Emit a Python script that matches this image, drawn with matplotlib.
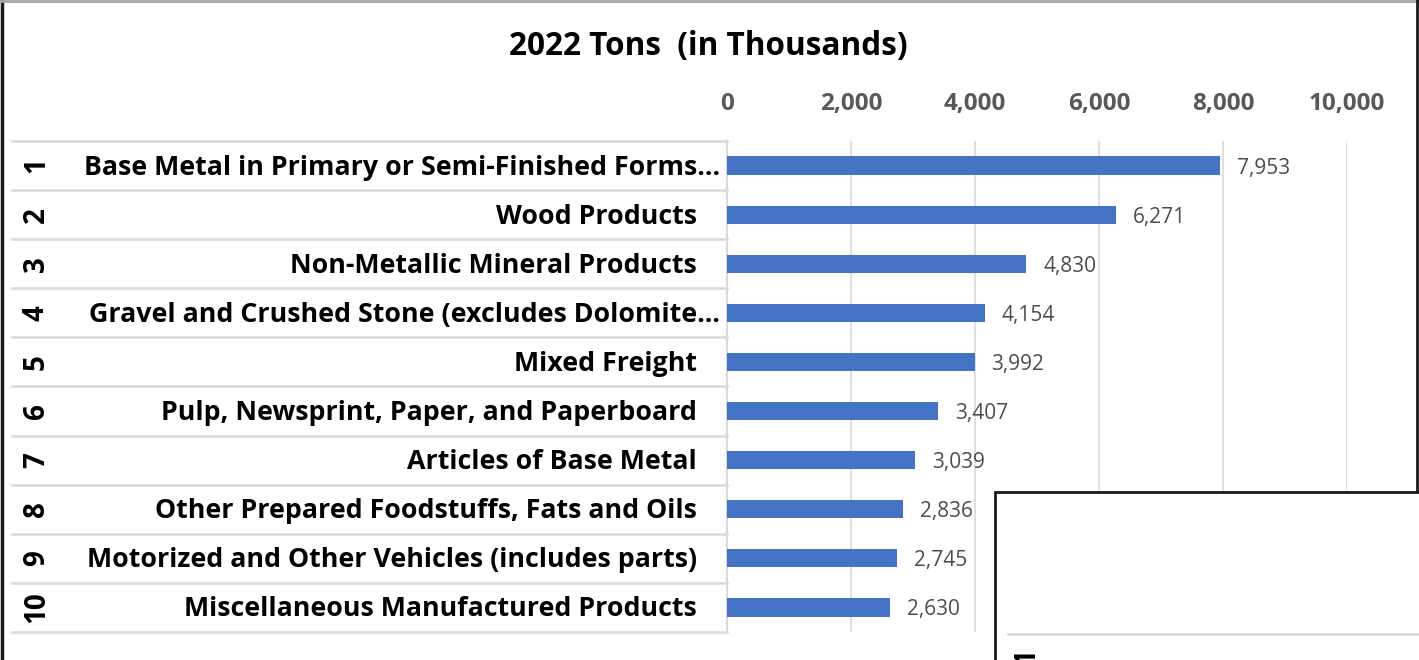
import numpy as np
import matplotlib.pyplot as plt
from matplotlib.patches import Rectangle
from matplotlib.lines import Line2D
import matplotlib.transforms as mtransforms

ranks = ["1", "2", "3", "4", "5", "6", "7", "8", "9", "10"]
commodities = [
    "Base Metal in Primary or Semi-Finished Forms…",
    "Wood Products",
    "Non-Metallic Mineral Products",
    "Gravel and Crushed Stone (excludes Dolomite…",
    "Mixed Freight",
    "Pulp, Newsprint, Paper, and Paperboard",
    "Articles of Base Metal",
    "Other Prepared Foodstuffs, Fats and Oils",
    "Motorized and Other Vehicles (includes parts)",
    "Miscellaneous Manufactured Products",
]
tons = [7953, 6271, 4830, 4154, 3992, 3407, 3039, 2836, 2745, 2630]
x_ticks = [0, 2000, 4000, 6000, 8000, 10000]

W, H = 1419, 660
fig = plt.figure(figsize=(W / 100, H / 100), dpi=100)
plt.rcParams["font.family"] = ["Open Sans", "DejaVu Sans"]

# plot area in pixels: x 727..1347, y 141..632
ax = fig.add_axes([727 / W, 1 - 632 / H, 620 / W, 491 / H])
y = np.arange(len(tons))
ax.barh(y, tons, height=0.37, color="#4472c4", zorder=3)
ax.set_xlim(0, 10000)
ax.set_ylim(len(tons) - 0.5, -0.5)

ax.xaxis.tick_top()
ax.set_xticks(x_ticks)
ax.set_xticklabels([f"{t:,}" for t in x_ticks], fontsize=17.5, fontweight="bold", color="#595959")
ax.tick_params(axis="x", length=0, pad=18)
ax.set_yticks([])
ax.grid(axis="x", color="#d9d9d9", linewidth=1.2, zorder=0)
for s in ["top", "right", "bottom"]:
    ax.spines[s].set_visible(False)
ax.spines["left"].set_color("#d9d9d9")
ax.spines["left"].set_linewidth(1.5)

for yi, v in zip(y, tons):
    ax.text(v + 270, yi + 0.05, f"{v:,}", va="center", ha="left", fontsize=15, color="#4d4d4d")

# two-level category axis: rank and commodity name
trans = mtransforms.blended_transform_factory(ax.transAxes, ax.transData)
for yi, r, name in zip(y, ranks, commodities):
    xn = -0.011 if name.endswith("…") else -0.048
    ax.text(xn, yi + 0.04, name, transform=trans, ha="right", va="center",
            fontsize=19.3, fontweight="bold", color="black")
    ax.text(-1.114, yi, r, transform=trans, ha="center", va="center", rotation=90,
            fontsize=20, fontweight="bold", color="black")
for b in np.arange(-0.5, len(tons), 1.0):
    ax.plot([-1.153, 0], [b, b], transform=trans, color="#d9d9d9", linewidth=1.8,
            clip_on=False, zorder=2)

fig.text(708 / W, 1 - 46 / H, "2022 Tons  (in Thousands)", ha="center", va="center",
         fontsize=22.7, fontweight="bold")

# chart border
fig.add_artist(Line2D([2 / W, 2 / W], [0, 1], color="#1a1a1a", linewidth=2.5))
fig.add_artist(Line2D([0, 1], [1 - 1 / H, 1 - 1 / H], color="#a6a6a6", linewidth=2))
fig.add_artist(Line2D([1417 / W, 1417 / W], [1 - 492 / H, 1], color="#1a1a1a", linewidth=2))

# neighbouring chart overlapping bottom right
fig.add_artist(Rectangle((995 / W, -0.05), 0.5, 1 - 492 / H + 0.05, facecolor="white",
                         edgecolor="#1a1a1a", linewidth=2, zorder=10))
fig.add_artist(Line2D([1008 / W, 1], [1 - 634 / H, 1 - 634 / H], color="#d9d9d9",
                      linewidth=1.8, zorder=11))
fig.text(1027 / W, 1 - 648 / H, "1", rotation=90, ha="center", va="top",
         fontsize=20, fontweight="bold", zorder=11)

fig.savefig("out.png", dpi=100)
